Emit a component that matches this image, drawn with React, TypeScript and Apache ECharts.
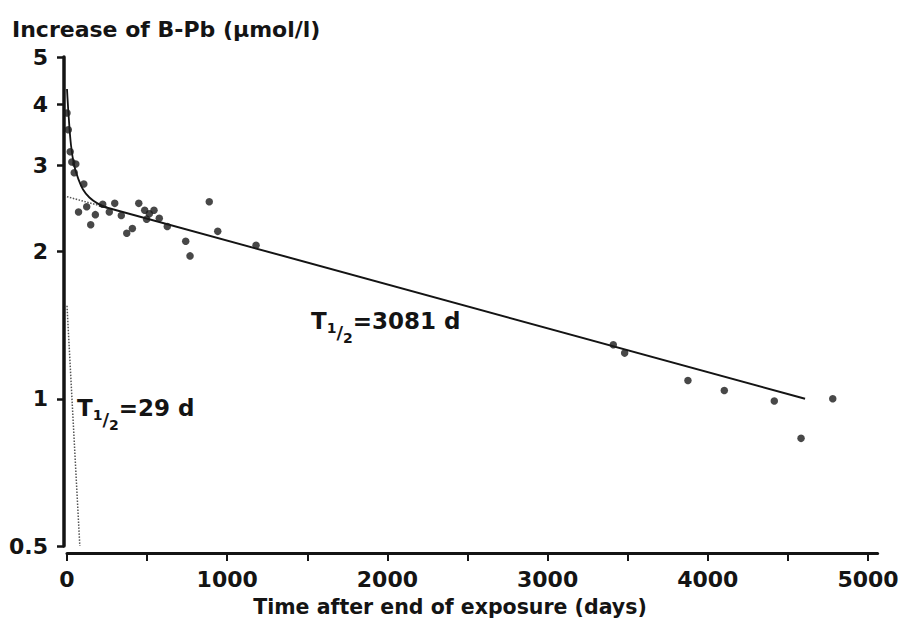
import React, { useEffect, useRef } from "react";
import * as echarts from "echarts";

const FONT = "DejaVu Sans";
const INK = "#141414";

// Axis ticks and labels
const yTicks = [0.5, 1, 2, 3, 4, 5];
const xTicks = [0, 500, 1000, 1500, 2000, 2500, 3000, 3500, 4000, 4500, 5000];
const xLabels = [0, 1000, 2000, 3000, 4000, 5000];

// Measured points (days, µmol/l)
const pointDays = [
  0, 8, 20, 30, 55, 45, 105, 72, 123, 148, 177, 223, 264, 298, 339, 373, 408,
  448, 485, 497, 514, 543, 576, 626, 741, 768, 888, 941, 1180, 3410, 3481,
  3876, 4103, 4415, 4582, 4780,
];
const pointValues = [
  3.84, 3.55, 3.2, 3.05, 3.02, 2.9, 2.75, 2.41, 2.47, 2.27, 2.38, 2.5, 2.41,
  2.51, 2.37, 2.18, 2.23, 2.51, 2.43, 2.33, 2.39, 2.43, 2.34, 2.25, 2.1, 1.96,
  2.53, 2.2, 2.06, 1.29, 1.24, 1.09, 1.04, 0.99, 0.83, 1.0,
];

// Fitted total curve (two-compartment)
const curveDays = [0, 10, 25, 45, 70, 100, 140, 190, 250];
const curveValues = [4.3, 3.8, 3.3, 3.0, 2.82, 2.68, 2.58, 2.51, 2.46];

// Slow component (T1/2 = 3081 d)
const slowDottedDays = [0, 200];
const slowDottedValues = [2.59, 2.485];
const slowSolidDays = [200, 4607];
const slowSolidValues = [2.485, 1.0];

// Fast component (T1/2 = 29 d)
const fastDays = [0, 80];
const fastValues = [1.55, 0.5];

const lg = (v: number) => Math.log10(v);
const pairs = (xs: number[], ys: number[]) => xs.map((x, i) => [x, lg(ys[i])]);

const tok = (fontSize: number, padTop: number) => ({
  fontSize,
  fontWeight: "bold",
  fontFamily: FONT,
  verticalAlign: "top",
  padding: [padTop, 0, 0, 0],
  fill: INK,
});

const halfLifeText = (x: number, y: number, value: string) => ({
  type: "text",
  x,
  y,
  style: {
    text: `{t|T}{a|1}{b|/}{c|2}{t|=${value} d}`,
    verticalAlign: "top",
    fill: INK,
    rich: {
      t: tok(23, 1),
      a: tok(14, 13),
      b: tok(18, 15),
      c: tok(14, 23),
    },
  },
});

export default function App() {
  const ref = useRef<HTMLDivElement>(null);
  useEffect(() => {
    if (!ref.current) return;
    const chart = echarts.init(ref.current, null, { renderer: "svg" });
    const xMax = 5060;
    const pxPerDay = 0.1602;
    chart.setOption({
      animation: false,
      backgroundColor: "#ffffff",
      grid: {
        left: 67,
        top: 57,
        right: 900 - 67 - xMax * pxPerDay,
        bottom: 82,
        outerBoundsMode: "none",
      },
      xAxis: {
        type: "value",
        min: 0,
        max: xMax,
        offset: 7,
        axisLine: { show: true, onZero: false, lineStyle: { color: INK, width: 3 } },
        axisTick: { show: true, customValues: xTicks, length: 8, lineStyle: { color: INK, width: 2 } },
        axisLabel: {
          customValues: xLabels,
          margin: 15,
          fontSize: 22,
          fontFamily: FONT,
          fontWeight: "bold",
          color: INK,
          formatter: (v: number) => String(v),
        },
        splitLine: { show: false },
      },
      yAxis: {
        type: "value",
        min: lg(0.5),
        max: lg(5),
        offset: 3,
        axisLine: { show: true, onZero: false, lineStyle: { color: INK, width: 3.5 } },
        axisTick: { show: true, customValues: yTicks.map(lg), length: 7, lineStyle: { color: INK, width: 2.5 } },
        axisLabel: {
          customValues: yTicks.map(lg),
          margin: 16,
          fontSize: 22,
          fontFamily: FONT,
          fontWeight: "bold",
          color: INK,
          formatter: (v: number) => String(Number(Math.pow(10, v).toPrecision(3))),
        },
        splitLine: { show: false },
      },
      graphic: [
        {
          type: "text",
          x: 12,
          y: 29.5,
          style: {
            text: "Increase of B-Pb (µmol/l)",
            fontFamily: FONT,
            fontWeight: "bold",
            fontSize: 22,
            fill: INK,
            verticalAlign: "middle",
          },
        },
        {
          type: "text",
          x: 450,
          y: 607,
          style: {
            text: "Time after end of exposure (days)",
            fontFamily: FONT,
            fontWeight: "bold",
            fontSize: 20.5,
            fill: INK,
            align: "center",
            verticalAlign: "middle",
          },
        },
        halfLifeText(311, 308, "3081"),
        halfLifeText(77, 395, "29"),
      ],
      series: [
        {
          type: "line",
          data: pairs(fastDays, fastValues),
          showSymbol: false,
          lineStyle: { color: "#555", width: 1.5, type: "dotted" },
          z: 1,
        },
        {
          type: "line",
          data: pairs(slowDottedDays, slowDottedValues),
          showSymbol: false,
          lineStyle: { color: "#555", width: 1.5, type: "dotted" },
          z: 1,
        },
        {
          type: "line",
          data: pairs(slowSolidDays, slowSolidValues),
          showSymbol: false,
          lineStyle: { color: INK, width: 2 },
          z: 2,
        },
        {
          type: "line",
          data: pairs(curveDays, curveValues),
          showSymbol: false,
          smooth: 0.4,
          lineStyle: { color: INK, width: 1.8 },
          z: 2,
        },
        {
          type: "scatter",
          data: pairs(pointDays, pointValues),
          symbolSize: 7.5,
          itemStyle: { color: "#1a1a1a" },
          z: 3,
        },
      ],
    });
    return () => chart.dispose();
  }, []);
  return (
    <div
      ref={ref}
      style={{ position: "fixed", left: 0, top: 0, width: 900, height: 628, background: "#fff" }}
    />
  );
}
